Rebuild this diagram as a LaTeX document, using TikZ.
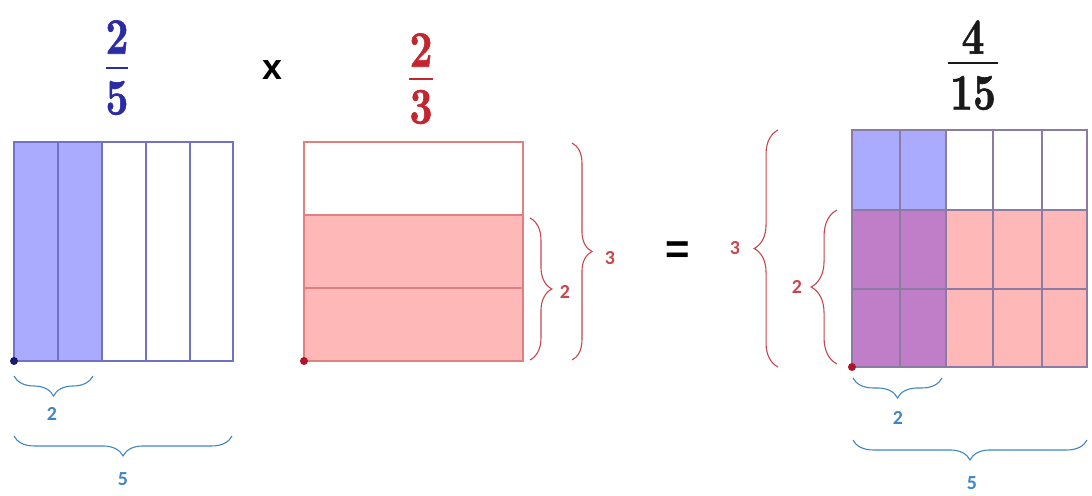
\documentclass[tikz,border=0pt]{standalone}
\usepackage{fontspec}
\newfontfamily\labfont{Carlito}
\newfontfamily\symfont{Liberation Sans}
\newfontfamily\fracfont[FakeBold=1.3]{lmroman10-bold.otf}
\usetikzlibrary{decorations.pathreplacing}
\definecolor{bfill}{HTML}{AAAAFF}
\definecolor{bline}{HTML}{7272C4}
\definecolor{rfill}{HTML}{FFB8B8}
\definecolor{rline}{HTML}{E08080}
\definecolor{pfill}{HTML}{C07EC8}
\definecolor{gline}{HTML}{8C7CA4}
\definecolor{btext}{HTML}{2B2BA6}
\definecolor{rtext}{HTML}{C4262E}
\definecolor{bbrace}{HTML}{3F86C4}
\definecolor{rbrace}{HTML}{C8464E}
\definecolor{bdot}{HTML}{1A1A6E}
\definecolor{rdot}{HTML}{B01428}
\definecolor{ktext}{HTML}{1A1A1A}
\tikzset{
  fracdigit/.style={inner sep=0pt, font=\fracfont\fontsize{40}{40}\selectfont},
  fracbar/.style={line width=2.4pt},
  lab/.style={inner sep=0pt, font=\labfont\bfseries\fontsize{20}{20}\selectfont},
  bracestyle/.style={decorate, line width=1.1pt, decoration={brace, amplitude=#1}},
  gridline/.style={line width=1.2pt},
  dotstyle/.style={circle, inner sep=0pt, minimum size=8pt}
}
\newcommand{\tall}[1]{\scalebox{1}[1.28]{#1}}
\begin{document}
\begin{tikzpicture}[x=1bp, y=-1bp]
\useasboundingbox[fill=white] (0,0) rectangle (1092,496);

% ---------- left fraction 2/5 ----------
\node[fracdigit, text=btext] (ln) at (117,37) {\tall{2}};
\node[fracdigit, text=btext] (ld) at (117,98) {\tall{5}};
\coordinate (lb1) at (106,68); \coordinate (lb2) at (128,68);
\draw[fracbar, btext] (lb1) -- (lb2);

% left rectangle
\fill[bfill] (14,142) rectangle (102,361);
\foreach \x in {58,102,146,190} \draw[gridline, bline] (\x,142) -- (\x,361);
\draw[gridline, bline] (14,142) rectangle (233,361);
\node[dotstyle, fill=bdot] (ldot) at (14,361) {};

% left braces
\coordinate (lbA) at (14,376); \coordinate (lbB) at (93,376);
\draw[bracestyle=20, bbrace, decoration={mirror}] (lbA) -- (lbB);
\node[lab, text=bbrace] (l2) at (52,414) {2};
\coordinate (lcA) at (14,436); \coordinate (lcB) at (232,436);
\draw[bracestyle=20, bbrace, decoration={mirror}] (lcA) -- (lcB);
\node[lab, text=bbrace] (l5) at (123,479) {5};

% times
\node[inner sep=0pt, font=\symfont\bfseries\fontsize{36}{36}\selectfont] (times) at (272,70) {x};

% ---------- middle fraction 2/3 ----------
\node[fracdigit, text=rtext] (mn) at (421,50) {\tall{2}};
\node[fracdigit, text=rtext] (md) at (421,107) {\tall{3}};
\coordinate (mb1) at (409,79); \coordinate (mb2) at (433,79);
\draw[fracbar, rtext] (mb1) -- (mb2);

\fill[rfill] (304,215) rectangle (523,361);
\draw[gridline, rline] (304,288) -- (523,288);
\draw[gridline, rline] (304,215) -- (523,215);
\draw[gridline, rline] (304,142) rectangle (523,361);
\node[dotstyle, fill=rdot] (mdot) at (304,361) {};

\coordinate (mbA) at (530,218); \coordinate (mbB) at (530,360);
\draw[bracestyle=22, rbrace] (mbA) -- (mbB);
\node[lab, text=rbrace] (m2) at (565,292) {2};
\coordinate (mcA) at (572,143); \coordinate (mcB) at (572,360);
\draw[bracestyle=20, rbrace] (mcA) -- (mcB);
\node[lab, text=rbrace] (m3) at (610,258) {3};

% equals
\node[inner sep=0pt, font=\symfont\bfseries\fontsize{42}{42}\selectfont] (eq) at (678,253) {=};

% ---------- right fraction 4/15 ----------
\node[fracdigit, text=ktext] (rn) at (973,37) {\tall{4}};
\node[fracdigit, text=ktext] (rd) at (973,93) {\tall{15}};
\coordinate (rb1) at (948,63); \coordinate (rb2) at (998,63);
\draw[fracbar, ktext] (rb1) -- (rb2);

\fill[bfill] (852,130) rectangle (946,210);
\fill[rfill] (946,210) rectangle (1087,367);
\fill[pfill] (852,210) rectangle (946,367);
\foreach \x in {900,946,993,1042} \draw[gridline, gline] (\x,130) -- (\x,367);
\foreach \y in {210,289} \draw[gridline, gline] (852,\y) -- (1087,\y);
\draw[gridline, gline] (852,130) rectangle (1087,367);
\node[dotstyle, fill=rdot] (rdot) at (852,367) {};

% right side braces
\coordinate (raA) at (778,367); \coordinate (raB) at (778,130);
\draw[bracestyle=24, rbrace] (raA) -- (raB);
\node[lab, text=rbrace] (r3) at (735,248) {3};
\coordinate (rsA) at (837,364); \coordinate (rsB) at (837,210);
\draw[bracestyle=26, rbrace] (rsA) -- (rsB);
\node[lab, text=rbrace] (r2) at (797,287) {2};

% right bottom braces
\coordinate (rcA) at (853,378); \coordinate (rcB) at (942,378);
\draw[bracestyle=20, bbrace, decoration={mirror}] (rcA) -- (rcB);
\node[lab, text=bbrace] (rl2) at (898,418) {2};
\coordinate (rdA) at (853,440); \coordinate (rdB) at (1087,440);
\draw[bracestyle=20, bbrace, decoration={mirror}] (rdA) -- (rdB);
\node[lab, text=bbrace] (rl5) at (972,483) {5};
\end{tikzpicture}
\end{document}
